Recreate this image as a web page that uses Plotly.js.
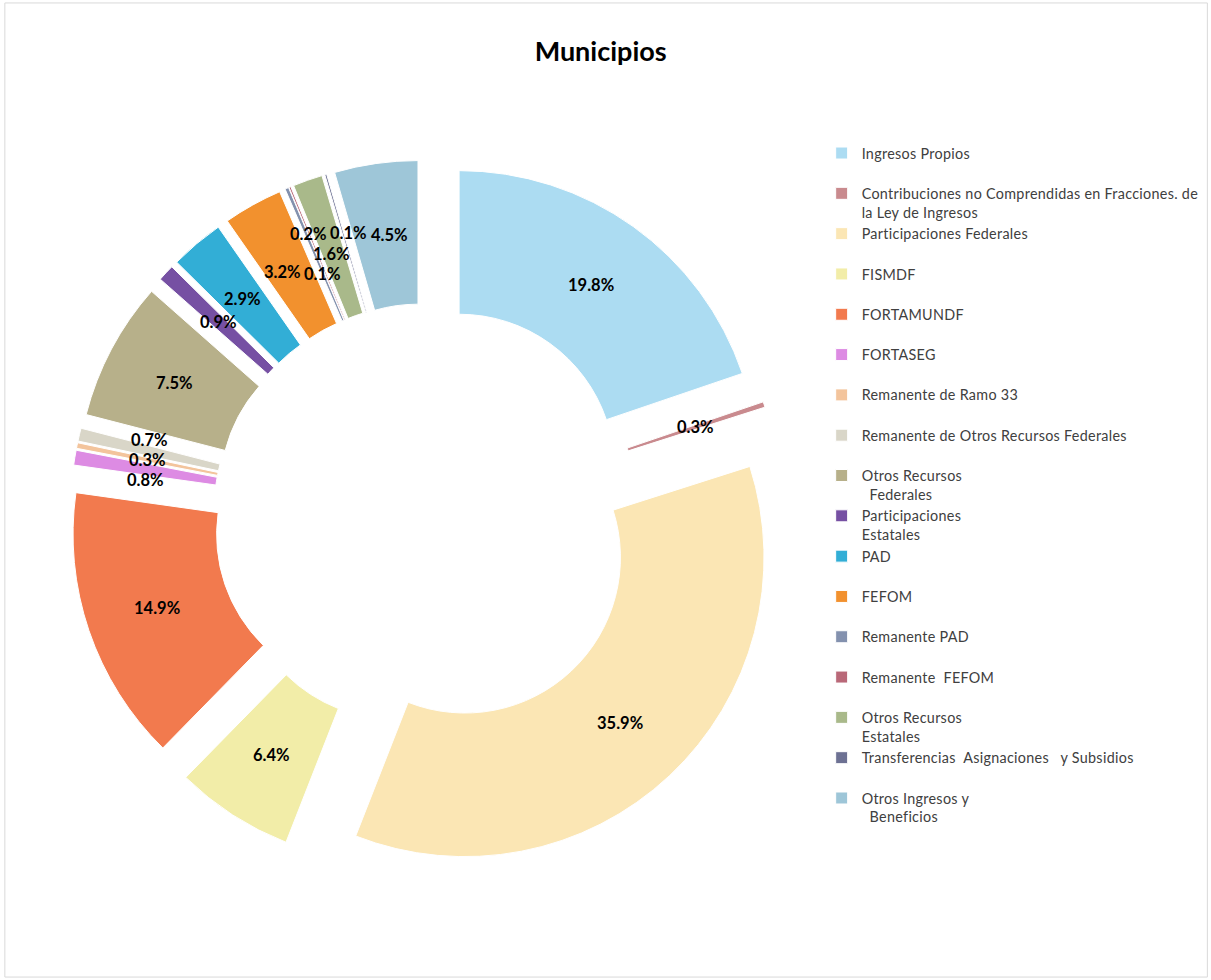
<!DOCTYPE html>
<html>
<head>
<meta charset="utf-8">
<script src="https://cdn.plot.ly/plotly-3.0.1.min.js"></script>
<style>
html,body{margin:0;padding:0;background:#fff;}
#chart{width:1211px;height:980px;}
.legendtext{letter-spacing:0.3px;}
</style>
</head>
<body>
<div id="chart"></div>
<script>
const categories = [
  "Ingresos Propios",
  "Contribuciones no Comprendidas en Fracciones. de<br>la Ley de Ingresos",
  "Participaciones Federales",
  "FISMDF",
  "FORTAMUNDF",
  "FORTASEG",
  "Remanente de Ramo 33",
  "Remanente de Otros Recursos Federales",
  "Otros Recursos<br>  Federales",
  "Participaciones<br>Estatales",
  "PAD",
  "FEFOM",
  "Remanente PAD",
  "Remanente  FEFOM",
  "Otros Recursos<br>Estatales",
  "Transferencias  Asignaciones   y Subsidios",
  "Otros Ingresos y<br>  Beneficios"
];
const values = [19.8, 0.3, 35.9, 6.4, 14.9, 0.8, 0.3, 0.7, 7.5, 0.9, 2.9, 3.2, 0.2, 0.1, 1.6, 0.1, 4.5];
const colors = [
  "#ACDCF2", "#C98A8E", "#FBE6B4", "#F2EDA8", "#F27A4E", "#DD8BE3",
  "#F3C49C", "#D9D6C8", "#B7B08A", "#7650A3", "#32AED6", "#F2912E",
  "#8391AE", "#B96878", "#A9B98A", "#6D7193", "#9EC6D8"
];

const HOLE = 0.52;
const PULL = 0.19;
const LABEL_FONT = "Lato, 'Open Sans', sans-serif";
const LABEL_SIZE = 16.5;

// pad single-line legend entries to two lines so every entry has equal height
const legendLabels = categories.map(c => c.indexOf("<br>") >= 0 ? c : c + "<br>&nbsp;");

const trace = {
  type: "pie",
  labels: legendLabels,
  values: values,
  sort: false,
  direction: "clockwise",
  rotation: 0,
  hole: HOLE,
  pull: values.map(() => PULL),
  marker: { colors: colors, line: { color: "#ffffff", width: 1 } },
  textinfo: "none",
  hoverinfo: "label+percent",
  domain: { x: [70/1211, 782/1211], y: [1 - 872/980, 1 - 160/980] }
};

const layout = {
  width: 1211,
  height: 980,
  margin: { l: 0, r: 0, t: 0, b: 0 },
  paper_bgcolor: "#ffffff",
  title: {
    text: "<b>Municipios</b>",
    font: { family: "Lato, 'Open Sans', sans-serif", size: 27, color: "#000000" },
    x: 0.496, xanchor: "center", y: 0.947, yanchor: "middle"
  },
  showlegend: true,
  legend: {
    x: 0.6785, xanchor: "left",
    y: 0.860, yanchor: "top",
    valign: "top",
    font: { family: "Lato, 'Open Sans', sans-serif", size: 14.35, color: "#404040" },
    tracegroupgap: 0,
    bgcolor: "rgba(0,0,0,0)"
  },
  shapes: [{
    type: "rect", xref: "paper", yref: "paper",
    x0: 0.004, x1: 0.997, y0: 0.003, y1: 0.997,
    line: { color: "#d9d9d9", width: 1 }
  }]
};

const gd = document.getElementById("chart");
Plotly.newPlot(gd, [trace], layout, { displayModeBar: false, staticPlot: true }).then(() => {
  const fl = gd._fullLayout;
  const gs = fl._size;
  const cd = gd.calcdata && gd.calcdata[0];
  const total = values.reduce((a, b) => a + b, 0);

  // pie geometry, as the library computed it (fallback: same formula)
  let cx, cy, r;
  if (cd && cd[0] && isFinite(cd[0].r) && isFinite(cd[0].cx)) {
    cx = cd[0].cx; cy = cd[0].cy; r = cd[0].r;
  } else {
    const d = trace.domain;
    const bw = gs.w * (d.x[1] - d.x[0]), bh = gs.h * (d.y[1] - d.y[0]);
    r = Math.min(bw, bh) / 2 / (1 + PULL);
    cx = gs.l + gs.w * (d.x[0] + d.x[1]) / 2;
    cy = gs.t + gs.h * (1 - (d.y[0] + d.y[1]) / 2);
  }

  const ctx = document.createElement("canvas").getContext("2d");
  ctx.font = "bold " + LABEL_SIZE + "px Lato";

  // label anchors: middle of the ring of each (pulled) slice
  const labelRadius = r * ((1 + HOLE) / 2 + PULL);
  let cum = 0;
  const boxes = values.map((v, i) => {
    let ux, uy;
    if (cd && cd[i] && cd[i].pxmid) {
      ux = cd[i].pxmid[0] / r; uy = cd[i].pxmid[1] / r;
    } else {
      const a = 2 * Math.PI * (cum + v / 2) / total;
      ux = Math.sin(a); uy = -Math.cos(a);
    }
    cum += v;
    const txt = v.toFixed(1) + "%";
    return { txt, x: cx + ux * labelRadius, y: cy + uy * labelRadius,
             w: ctx.measureText(txt).width, h: 20 };
  });

  // push overlapping labels apart
  for (let it = 0; it < 400; it++) {
    let moved = false;
    for (let i = 0; i < boxes.length; i++) {
      for (let j = i + 1; j < boxes.length; j++) {
        const a = boxes[i], b = boxes[j];
        const dx = b.x - a.x, dy = b.y - a.y;
        const ox = (a.w + b.w) / 2 + 4 - Math.abs(dx);
        const oy = (a.h + b.h) / 2 - Math.abs(dy);
        if (ox > 0 && oy > 0) {
          moved = true;
          if (oy <= ox) {
            const s = dy >= 0 ? 1 : -1;
            a.y -= s * (oy / 2 + 0.1); b.y += s * (oy / 2 + 0.1);
          } else {
            const s = dx >= 0 ? 1 : -1;
            a.x -= s * (ox / 2 + 0.1); b.x += s * (ox / 2 + 0.1);
          }
        }
      }
    }
    if (!moved) break;
  }

  const annotations = boxes.map(b => ({
    xref: "paper", yref: "paper",
    x: (b.x - gs.l) / gs.w, y: 1 - (b.y - gs.t) / gs.h,
    xanchor: "center", yanchor: "middle",
    text: "<b>" + b.txt + "</b>",
    showarrow: false,
    font: { family: LABEL_FONT, size: LABEL_SIZE, color: "#000000" }
  }));
  return Plotly.relayout(gd, { annotations: annotations });
});
</script>
</body>
</html>
